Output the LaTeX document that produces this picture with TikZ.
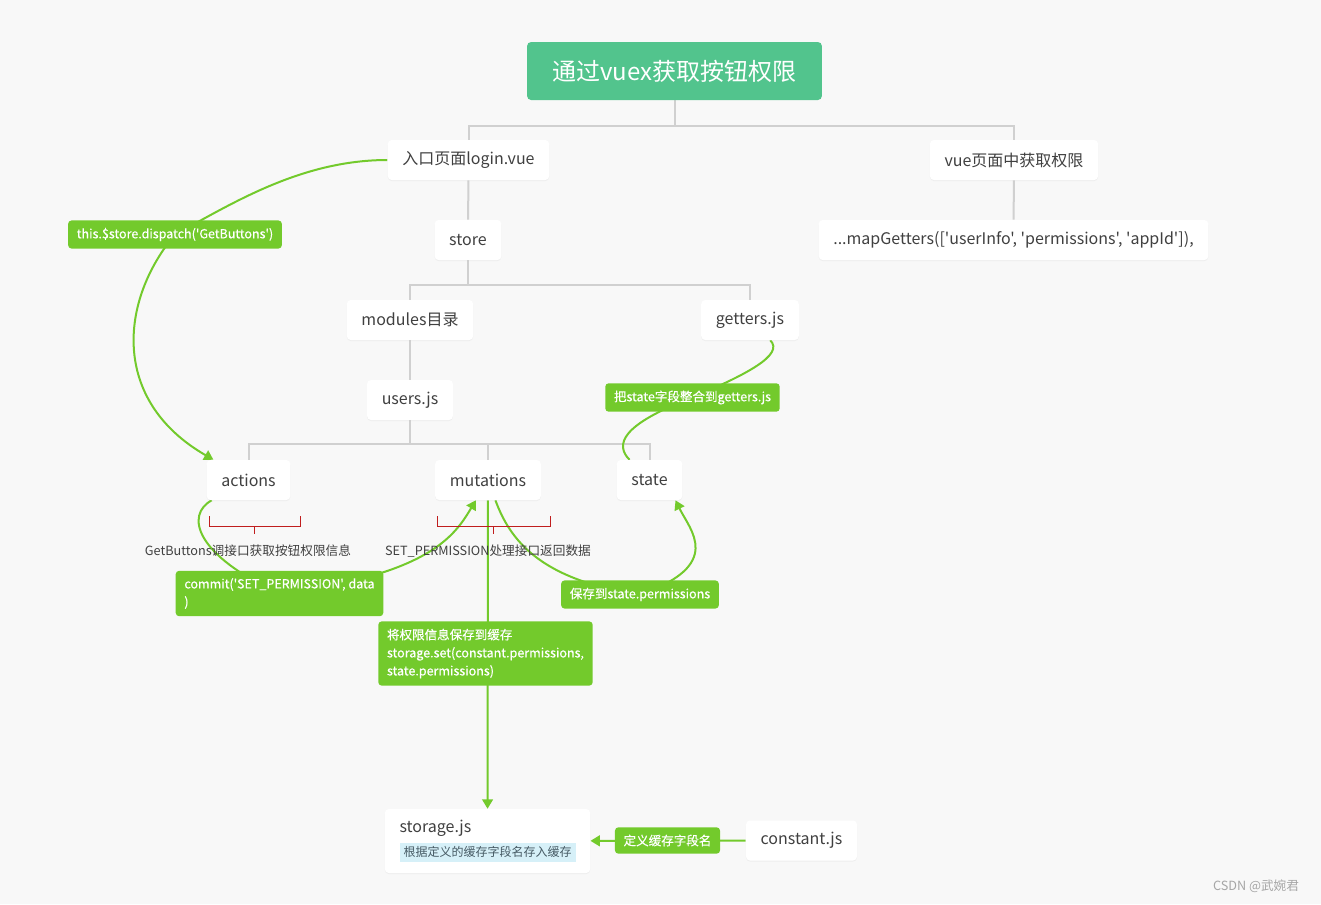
\documentclass[tikz,border=0pt]{standalone}
\usepackage{fontspec}
\setmainfont{Noto Sans CJK SC}[Ligatures=TeXOff]
\newfontfamily\lblfont{Noto Sans CJK SC}[Ligatures=TeXOff, FakeBold=0.4]
\usetikzlibrary{arrows.meta,shadows,calc}
\definecolor{pagebg}{RGB}{248,248,248}
\definecolor{treeline}{RGB}{208,208,208}
\definecolor{titlegreen}{RGB}{82,196,141}
\definecolor{relgreen}{RGB}{115,202,44}
\definecolor{bracketred}{RGB}{192,30,30}
\definecolor{textgray}{RGB}{64,64,64}
\definecolor{notebg}{RGB}{214,240,248}
\definecolor{notetext}{RGB}{70,90,100}
\pgfdeclarelayer{back}\pgfdeclarelayer{links}
\pgfsetlayers{back,links,main}

\begin{document}
\begin{tikzpicture}[x=0.75pt, y=-0.75pt,
	topic/.style={fill=white, rounded corners=3pt, text=textgray, font=\fontsize{12}{14}\selectfont, minimum height=30pt, inner xsep=11pt, drop shadow={opacity=0.08, shadow xshift=0pt, shadow yshift=-0.8pt}},
	rootbox/.style={fill=titlegreen, rounded corners=3pt, text=white, font=\fontsize{18}{21}\selectfont, minimum height=43.5pt, inner xsep=19pt},
	rellbl/.style={fill=relgreen, rounded corners=2.5pt, text=white, font=\lblfont\fontsize{9.4}{13.5}\selectfont, inner xsep=6.5pt, inner ysep=5.5pt, align=left},
	tree/.style={treeline, line width=1.5pt},
	rel/.style={relgreen, line width=1.5pt},
	relarrow/.style={rel, -{Triangle[length=7pt,width=8pt]}},
	brace/.style={bracketred, line width=0.75pt},
	note/.style={text=textgray, font=\fontsize{9.5}{12}\selectfont}]
	\begin{pgfonlayer}{back}\fill[pagebg] (0,0) rectangle (1321,904);\end{pgfonlayer}
	\useasboundingbox (0,0) rectangle (1321,904);
	\node[rootbox] (title) at (674.5,71) {通过vuex获取按钮权限};
	\node[topic] (login) at (468.5,160) {入口页面login.vue};
	\node[topic] (vuepage) at (1014,160) {vue页面中获取权限};
	\node[topic] (store) at (468,240) {store};
	\node[topic] (mapget) at (1013.5,240) {...mapGetters(['userInfo', 'permissions', 'appId']),};
	\node[topic] (modules) at (410,320) {modules目录};
	\node[topic] (getters) at (750,320) {getters.js};
	\node[topic] (users) at (410,400) {users.js};
	\node[topic] (actions) at (248.5,480) {actions};
	\node[topic] (mutations) at (488,480) {mutations};
	\node[topic] (state) at (649.5,480) {state};
	\node[topic, align=left, minimum height=48pt] (storage) at (487.5,841) {storage.js\\[4pt]{\fontsize{9}{11}\selectfont\color{notetext}\colorbox{notebg}{根据定义的缓存字段名存入缓存}}};
	\node[topic] (constant) at (801.5,840.5) {constant.js};
	\node[rellbl] (dispatchlbl) at (175,234.5) {this.\$store.dispatch('GetButtons')};
	\node[rellbl] (commitlbl) at (279.5,593.5) {commit('SET\_PERMISSION', data\\)};
	\node[rellbl] (savelbl) at (640,594.5) {保存到state.permissions};
	\node[rellbl] (getlbl) at (692.5,397.5) {把state字段整合到getters.js};
	\node[rellbl] (setlbl) at (485.5,653.5) {将权限信息保存到缓存\\storage.set(constant.permissions,\\state.permissions)};
	\node[rellbl] (constlbl) at (667.5,840.5) {定义缓存字段名};
	\node[note] (btnnote) at (248,551) {GetButtons调接口获取按钮权限信息};
	\node[note] (permnote) at (488,551) {SET\_PERMISSION处理接口返回数据};
	\node[text=black!35, font=\fontsize{9.5}{12}\selectfont] (mark) at (1256,886) {CSDN @武婉君};
	\begin{pgfonlayer}{links}
		\foreach \a/\b in {title/login, title/vuepage} {\draw[tree] (\a.south) -- ++(0,26) -| (\b.north);}
		\foreach \a/\b in {store/modules, store/getters} {\draw[tree] (\a.south) -- ++(0,25) -| (\b.north);}
		\foreach \b in {actions, mutations, state} {\draw[tree] (users.south) -- ++(0,24) -| (\b.north);}
		\draw[tree] (login) -- (store); \draw[tree] (vuepage) -- (mapget); \draw[tree] (modules) -- (users);
		\draw[relarrow] (login.west) .. controls (300,160) and (230,205) .. (dispatchlbl.center) .. controls (120,300) and (110,400) .. (actions);
		\draw[relarrow] (actions) .. controls (185,515) and (195,555) .. (commitlbl.center) .. controls (430,575) and (455,535) .. (mutations);
		\draw[relarrow] (mutations) .. controls (510,540) and (540,580) .. (savelbl.center) .. controls (725,565) and (690,530) .. ($(state.south)+(26,0)$);
		\draw[rel] (getters) .. controls (785,355) and (745,375) .. (getlbl.center) .. controls (620,425) and (615,445) .. (state);
		\draw[relarrow] (mutations) -- (storage);
		\draw[relarrow] (constant) -- (storage);
	\end{pgfonlayer}
	\draw[brace] (209,516) |- (300,526) -- (300,516) (254,526) -- (254,534);
	\draw[brace] (437,516) |- (550,526) -- (550,516) (493,526) -- (493,534);
\end{tikzpicture}
\end{document}
